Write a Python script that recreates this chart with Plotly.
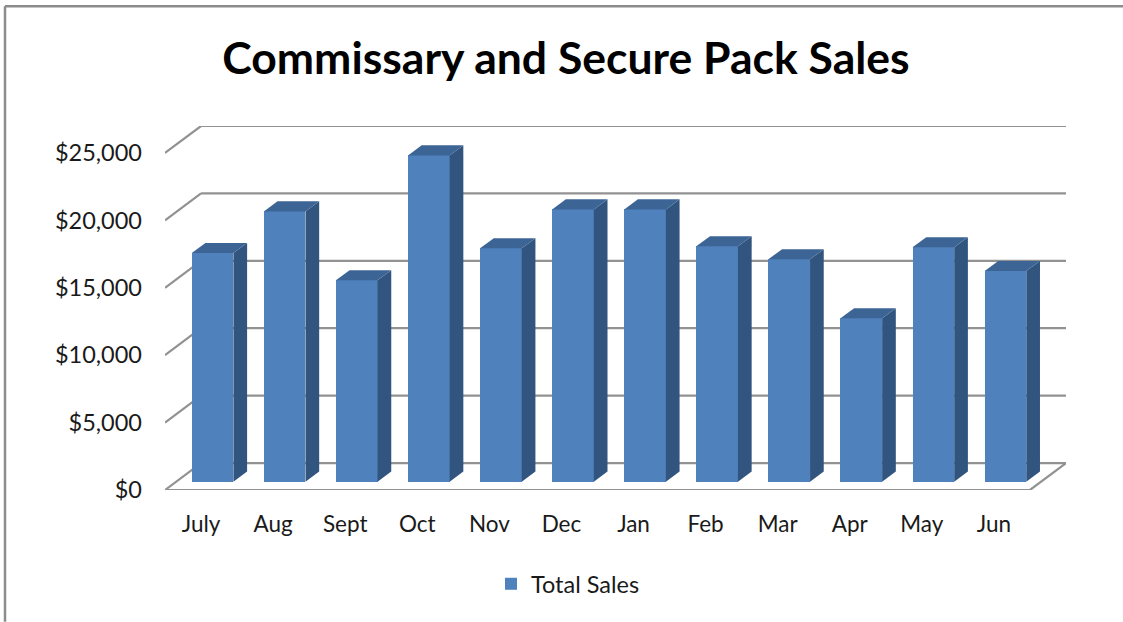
import plotly.graph_objects as go

months = ["July", "Aug", "Sept", "Oct", "Nov", "Dec", "Jan", "Feb", "Mar", "Apr", "May", "Jun"]
total_sales = [16960, 20050, 14940, 24200, 17310, 20200, 20200, 17460, 16500, 12120, 17385, 15630]
y_ticks = [0, 5000, 10000, 15000, 20000, 25000]
y_tick_labels = ["$0", "$5,000", "$10,000", "$15,000", "$20,000", "$25,000"]
series_name = "Total Sales"

FONT = "Lato, Carlito, Calibri, sans-serif"
FRONT, SIDE, TOP = "#4F81BD", "#32557F", "#3C6595"
GRID = "#929292"

W, H = 1123, 622
L, R, T, B = 165, 1066, 125.5, 490
WALL_DX, WALL_DY = 0.5, 2000
BAR_W, BAR_SHIFT, BAR_BASE = 0.578, 0.16, 615
DEPTH_DX, DEPTH_DY = 0.19, 750

idx = list(range(len(months)))
x_lo, x_hi = -0.5, len(months) - 0.5 + WALL_DX
y_lo, y_hi = 0, max(y_ticks) + WALL_DY

fig = go.Figure()
fig.add_trace(go.Bar(
    x=[i + BAR_SHIFT for i in idx], y=total_sales, base=BAR_BASE, width=BAR_W,
    marker=dict(color=FRONT, line=dict(width=0)), name=series_name, showlegend=True,
))

def face(xs, ys, color):
    fig.add_trace(go.Scatter(x=xs, y=ys, mode="lines", fill="toself", fillcolor=color,
                             line=dict(width=0, color=color), showlegend=False, hoverinfo="skip"))

for i, v in zip(idx, total_sales):
    xl = i + BAR_SHIFT - BAR_W / 2
    xr = i + BAR_SHIFT + BAR_W / 2
    yt = BAR_BASE + v
    face([xr, xr + DEPTH_DX, xr + DEPTH_DX, xr, xr],
         [BAR_BASE, BAR_BASE + DEPTH_DY, yt + DEPTH_DY, yt, BAR_BASE], SIDE)
    face([xl, xr, xr + DEPTH_DX, xl + DEPTH_DX, xl],
         [yt, yt, yt + DEPTH_DY, yt + DEPTH_DY, yt], TOP)

shapes = []
def seg(x0, y0, x1, y1):
    shapes.append(dict(type="line", layer="below", xref="x", yref="y", x0=x0, y0=y0, x1=x1, y1=y1,
                       line=dict(color=GRID, width=2.2)))

for t in y_ticks:
    seg(x_lo, t, x_lo + WALL_DX, t + WALL_DY)
    seg(x_lo + WALL_DX, t + WALL_DY, x_hi, t + WALL_DY)
seg(x_lo, 0, x_hi - WALL_DX, 0)
seg(x_hi - WALL_DX, 0, x_hi, WALL_DY)

px = lambda p: (p - L) / (R - L)
py = lambda p: (B - p) / (B - T)
frame = dict(color="#8C8C8C", width=2.5)
shapes.append(dict(type="line", xref="paper", yref="paper", x0=px(5), x1=px(5), y0=py(5.5), y1=py(H), line=frame))
shapes.append(dict(type="line", xref="paper", yref="paper", x0=px(5), x1=px(W), y0=py(5.5), y1=py(5.5), line=frame))

fig.update_layout(
    width=W, height=H, autosize=False,
    margin=dict(l=L, r=W - R, t=T, b=H - B),
    paper_bgcolor="white", plot_bgcolor="rgba(0,0,0,0)",
    font=dict(family=FONT, color="#1A1A1A", size=22),
    title=dict(text="<b>Commissary and Secure Pack Sales</b>", x=566 / W, xanchor="center",
               y=1 - 58 / H, yanchor="middle", font=dict(family=FONT, size=44.5, color="black")),
    xaxis=dict(range=[x_lo, x_hi], tickmode="array", tickvals=idx, ticktext=months, showgrid=False,
               zeroline=False, showline=False, ticks="", ticklabelstandoff=18,
               tickfont=dict(size=22.5)),
    yaxis=dict(range=[y_lo, y_hi], tickmode="array", tickvals=y_ticks, ticktext=y_tick_labels,
               showgrid=False, zeroline=False, showline=False, ticks="", ticklabelstandoff=22,
               tickfont=dict(size=23.5)),
    legend=dict(orientation="h", x=568 / W, xref="container", xanchor="center",
                y=1 - 584 / H, yref="container", yanchor="middle", font=dict(size=23.5),
                bgcolor="rgba(0,0,0,0)"),
    shapes=shapes,
    bargap=0,
)
fig.write_html("out.html", config=dict(displayModeBar=False),
               post_script="document.body.style.margin='0';document.body.style.overflow='hidden';")
